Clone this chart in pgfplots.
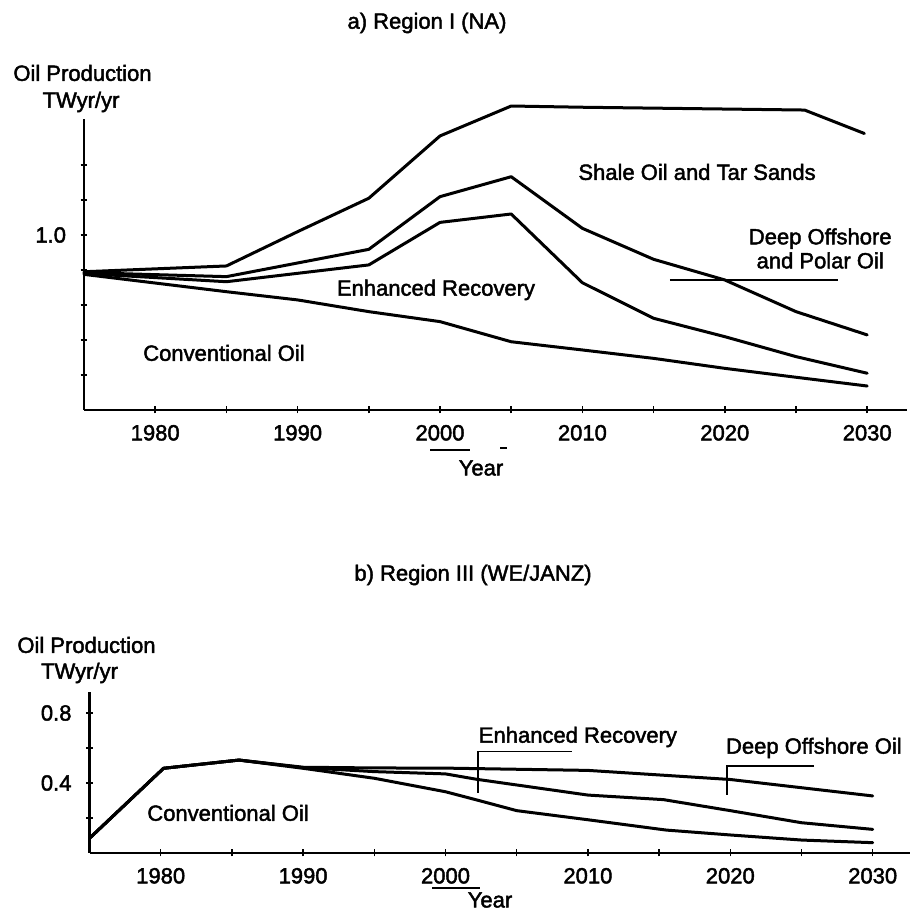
\documentclass[border=0pt]{standalone}
\usepackage{fontspec}
\setmainfont{Liberation Sans}[FakeBold=2]
\usepackage{pgfplots}
\pgfplotsset{compat=1.18}
\pgfplotsset{
  panel/.style={
    anchor=south west, x=14.24bp, y=175bp, ymin=0,
    axis lines=left, axis line style={-, line width=2.4bp, black},
    clip=false,
    xtick={1980,1990,2000,2010,2020,2030},
    xticklabels={1980,1990,2000,2010,2020,2030},
    minor xtick={1985,1995,2005,2015,2025},
    tick align=center, major tick length=7bp, minor tick length=7bp,
    tick style={black, line width=1.5bp},
    xticklabel style={yshift=-8bp},
    yticklabel style={xshift=-11bp},
  },
  dl/.style={black, line width=3bp, line join=round, line cap=round, no markers},
}
\tikzset{ld/.style={black, line width=1.6bp}}
\begin{document}
\begin{tikzpicture}[font=\fontsize{22bp}{24bp}\selectfont]
\useasboundingbox (0,0) rectangle (911bp,921bp);

% ---------- panel a ----------
\node at (427bp,898bp) {a) Region I (NA)};
\node at (82.5bp,848bp) {Oil Production};
\node at (81bp,819bp) {TWyr/yr};
\node at (481bp,453bp) {Year};
\draw[line width=1.2bp] (430bp,471bp) -- (470bp,471bp);
\draw[line width=1.2bp] (500bp,473bp) -- (507bp,473bp);

\begin{axis}[panel, at={(84bp,511bp)}, xmin=1975, xmax=2032.8, ymax=1.66,
  ytick={1.0}, yticklabels={1.0}, minor ytick={0.2,0.4,0.6,0.8,1.2,1.4}]
% Conventional oil
\addplot[dl] coordinates {(1975,0.775) (1985,0.676) (1990,0.629) (1995,0.562) (2000,0.505) (2005,0.39) (2010,0.343) (2015,0.295) (2020,0.238) (2025,0.187) (2030,0.137)};
% + Enhanced recovery
\addplot[dl] coordinates {(1975,0.78) (1985,0.733) (1995,0.829) (2000,1.072) (2005,1.12) (2010,0.727) (2015,0.524) (2020,0.419) (2025,0.305) (2030,0.21)};
% + Deep offshore and polar oil
\addplot[dl] coordinates {(1975,0.785) (1985,0.762) (1995,0.918) (2000,1.219) (2005,1.333) (2010,1.038) (2015,0.861) (2020,0.743) (2025,0.562) (2030,0.429)};
% + Shale oil and tar sands
\addplot[dl] coordinates {(1975,0.79) (1985,0.823) (1990,1.019) (1995,1.21) (2000,1.566) (2005,1.737) (2010,1.73) (2025.6,1.714) (2029.8,1.58)};

\node at (axis cs:2018.05,1.36) {Shale Oil and Tar Sands};
\node[align=center] at (axis cs:2026.7,0.923) {Deep Offshore\\and Polar Oil};
\draw[ld] (axis cs:2016.15,0.743) -- (axis cs:2027.95,0.743);
\node at (axis cs:1999.72,0.686) {Enhanced Recovery};
\node at (axis cs:1984.83,0.326) {Conventional Oil};
\end{axis}

% ---------- panel b ----------
\node at (473bp,346bp) {b) Region III (WE/JANZ)};
\node at (86.5bp,276bp) {Oil Production};
\node at (79.5bp,248bp) {TWyr/yr};
\node at (490bp,21bp) {Year};
\draw[line width=1.2bp] (432bp,33bp) -- (480bp,33bp);

\begin{axis}[panel, at={(89.5bp,68bp)}, xmin=1975, xmax=2032.6, ymax=0.92,
  ytick={0.4,0.8}, yticklabels={0.4,0.8}, minor ytick={0.2,0.6}]
% Conventional oil
\addplot[dl] coordinates {(1975,0.084) (1980.2,0.484) (1985.5,0.531) (1990,0.484) (1995,0.427) (2000,0.35) (2002.2,0.303) (2005,0.242) (2010,0.19) (2015.5,0.131) (2020,0.103) (2025,0.074) (2030,0.059)};
% + Enhanced recovery
\addplot[dl] coordinates {(1975,0.084) (1980.2,0.484) (1985.5,0.531) (1990,0.488) (1995,0.465) (2000,0.452) (2002.2,0.421) (2010,0.331) (2015.3,0.305) (2020,0.242) (2025,0.173) (2030,0.135)};
% + Deep offshore oil
\addplot[dl] coordinates {(1975,0.084) (1980.2,0.484) (1985.5,0.531) (1990,0.49) (1995,0.486) (2000,0.485) (2010,0.472) (2020,0.42) (2030,0.326)};

\node at (axis cs:2009.3,0.663) {Enhanced Recovery};
\draw[ld] (axis cs:2008.88,0.579) -- (axis cs:2002.28,0.579) -- (axis cs:2002.28,0.343);
\node at (axis cs:2025.87,0.6) {Deep Offshore Oil};
\draw[ld] (axis cs:2025.88,0.497) -- (axis cs:2019.78,0.497) -- (axis cs:2019.78,0.331);
\node at (axis cs:1984.73,0.229) {Conventional Oil};
\end{axis}
\end{tikzpicture}
\end{document}
